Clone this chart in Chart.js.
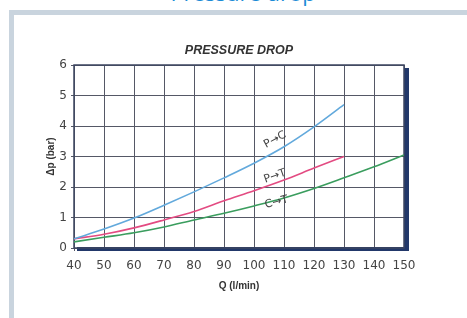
<!DOCTYPE html>
<html>
<head>
<meta charset="utf-8">
<script src="https://cdn.jsdelivr.net/npm/chart.js@4"></script>
<style>
  body { margin: 0; background: #fff; overflow: hidden; width: 467px; height: 318px; position: relative; }
  #pageTitle { position: absolute; left: 0; top: -19px; width: 486px; text-align: center;
    font-family: "Open Sans", sans-serif; font-size: 22px; line-height: 22px; color: #1b8bd6; }
  #frame { position: absolute; left: 9px; top: 10px; width: 600px; height: 400px;
    border: 5px solid #c9d4de; background: #fff; }
  #pressureChart { position: absolute; left: 0; top: 0; }
</style>
</head>
<body>
<div id="pageTitle">Pressure drop</div>
<div id="frame"></div>
<canvas id="pressureChart" width="467" height="318"></canvas>
<script>
// flow Q (l/min)
const flow = [40, 50, 60, 70, 80, 90, 100, 110, 120, 130, 140, 150];
// pressure drop (bar)
const pToC = [0.3, 0.62, 0.98, 1.4, 1.84, 2.3, 2.78, 3.32, 3.97, 4.7];
const pToT = [0.3, 0.45, 0.66, 0.92, 1.2, 1.55, 1.88, 2.23, 2.62, 3.0];
const cToT = [0.2, 0.35, 0.5, 0.69, 0.92, 1.14, 1.38, 1.64, 1.95, 2.3, 2.66, 3.05];
const seriesNames = ['P→C', 'P→T', 'C→T'];
const seriesColors = ['#62a9dc', '#e34b82', '#3a9d5e'];
// where the curve names sit (in data units)
const labelAt = [[107, 3.55], [107, 2.35], [107.5, 1.5]];

function points(values) {
    return values.map((v, i) => ({ x: flow[i], y: v }));
}

// thin frame plus navy drop shadow on right and bottom
const framePlugin = {
    id: 'frame',
    beforeDatasetsDraw(chart) {
        const { ctx, chartArea: a } = chart;
        ctx.save();
        ctx.fillStyle = '#22386a';
        ctx.fillRect(a.right, a.top + 3, 5, a.bottom - a.top);
        ctx.fillRect(a.left + 3, a.bottom - 1, a.right - a.left + 2, 4);
        ctx.strokeStyle = '#3c4560';
        ctx.lineWidth = 1.5;
        ctx.strokeRect(a.left, a.top, a.right - a.left, a.bottom - a.top);
        ctx.restore();
    }
};

// rotated curve names along the lines
const curveLabels = {
    id: 'curveLabels',
    afterDatasetsDraw(chart) {
        const { ctx, scales: { x, y } } = chart;
        ctx.save();
        ctx.font = '11px "DejaVu Sans"';
        ctx.fillStyle = '#444';
        ctx.textAlign = 'center';
        ctx.textBaseline = 'middle';
        chart.data.datasets.forEach((ds, i) => {
            const d = ds.data;
            const p1 = d[6], p2 = d[7];
            const ang = Math.atan2(y.getPixelForValue(p2.y) - y.getPixelForValue(p1.y),
                x.getPixelForValue(p2.x) - x.getPixelForValue(p1.x));
            ctx.save();
            ctx.translate(x.getPixelForValue(labelAt[i][0]), y.getPixelForValue(labelAt[i][1]));
            ctx.rotate(ang);
            ctx.fillText(seriesNames[i], 0, 0);
            ctx.restore();
        });
        ctx.restore();
    }
};

const tickFont = { family: '"DejaVu Sans"', size: 12 };
const gridStyle = { color: '#555866', lineWidth: 1, tickLength: 3, tickColor: '#555866' };

new Chart(document.getElementById('pressureChart'), {
    type: 'line',
    data: {
        datasets: [pToC, pToT, cToT].map((vals, i) => ({
            label: seriesNames[i],
            data: points(vals),
            borderColor: seriesColors[i],
            borderWidth: 1.6,
            pointRadius: 0,
            cubicInterpolationMode: 'monotone',
            fill: false
        }))
    },
    options: {
        responsive: false,
        animation: false,
        devicePixelRatio: 1,
        layout: { padding: { left: 0, right: 63, bottom: 0, top: 0 } },
        plugins: {
            legend: { display: false },
            tooltip: { enabled: false },
            title: {
                display: true,
                text: 'PRESSURE DROP',
                fullSize: false,
                color: '#333',
                font: { family: '"Liberation Sans"', size: 12.5, weight: 'bold', style: 'italic', lineHeight: '12px' },
                padding: { top: 45, bottom: 8 }
            }
        },
        scales: {
            x: {
                type: 'linear',
                min: 40,
                max: 150,
                border: { display: false },
                grid: gridStyle,
                ticks: { stepSize: 10, color: '#444', font: tickFont, padding: 8, maxRotation: 0 },
                title: {
                    display: true,
                    text: 'Q (l/min)',
                    color: '#333',
                    font: { family: '"Liberation Sans"', size: 10, weight: 'bold', lineHeight: '12px' },
                    padding: { top: 0, bottom: 26 }
                },
                afterFit(s) { s.height = 70; }
            },
            y: {
                min: 0,
                max: 6,
                border: { display: false },
                grid: gridStyle,
                ticks: { stepSize: 1, color: '#444', font: tickFont, padding: 4 },
                title: {
                    display: true,
                    text: 'Δp (bar)',
                    color: '#333',
                    font: { family: '"Liberation Sans"', size: 10, weight: 'bold', lineHeight: '12px' },
                    padding: { top: 45, bottom: 0 }
                },
                afterFit(s) { s.width = 74; }
            }
        }
    },
    plugins: [framePlugin, curveLabels]
});
</script>
</body>
</html>
